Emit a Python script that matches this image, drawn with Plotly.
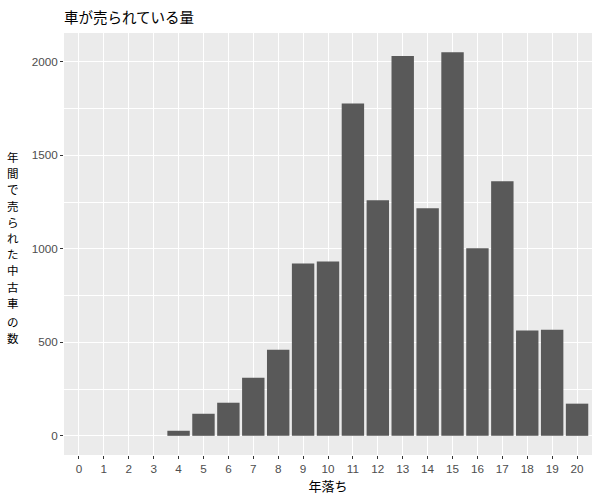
import plotly.graph_objects as go

years = list(range(21))
counts = [0, 0, 0, 0, 27, 118, 177, 311, 461, 922, 933, 1778, 1260, 2032, 1217, 2052, 1003, 1362, 563, 568, 172]
ylabel_chars = ["年", "間", "で", "売", "ら", "れ", "た", "中", "古", "車", "の", "数"]

FONT = "Liberation Sans, Noto Sans CJK JP, sans-serif"
JFONT = "Noto Sans CJK JP, sans-serif"

W, H = 600, 500
ML, MR, MT, MB = 64, 8, 33, 45

fig = go.Figure()
fig.add_trace(go.Bar(x=years, y=counts, width=0.9, marker=dict(color="#595959", line=dict(width=0)),
                     showlegend=False))

fig.update_layout(
    width=W, height=H,
    margin=dict(l=ML, r=MR, t=MT, b=MB, autoexpand=False),
    plot_bgcolor="#EBEBEB", paper_bgcolor="white",
    font=dict(family=FONT, color="#4D4D4D", size=11.7),
    title=dict(text="車が売られている量", x=ML/W, xanchor="left", y=1-18/H, yanchor="middle",
               font=dict(family=JFONT, size=14.5, color="black")),
    bargap=0.1,
)
fig.update_xaxes(
    range=[-0.6, 20.6], tickmode="array", tickvals=years, ticktext=[str(v) for v in years],
    showgrid=True, gridcolor="white", gridwidth=1.1, zeroline=False, automargin=False,
    ticks="outside", ticklen=3, tickcolor="#333333", tickwidth=1,
    tickfont=dict(size=11.7, color="#4D4D4D"),
    title=dict(text="年落ち", font=dict(family=JFONT, size=13, color="black"), standoff=7),
    showline=False,
)
fig.update_yaxes(
    range=[-102.6, 2154.6], tickmode="array", tickvals=[0, 500, 1000, 1500, 2000],
    showgrid=True, gridcolor="white", gridwidth=1.1, zeroline=False, automargin=False,
    minor=dict(tickmode="array", tickvals=[250, 750, 1250, 1750], showgrid=True, gridcolor="white", gridwidth=0.5, ticks=""),
    ticks="outside", ticklen=3, tickcolor="#333333", tickwidth=1,
    tickfont=dict(size=11.7, color="#4D4D4D"),
    showline=False,
)

# stacked vertical y-axis title, one glyph per line (extra gap before の)
plot_h = H - MT - MB
y_px = 157
for i, ch in enumerate(ylabel_chars):
    fig.add_annotation(
        text=ch, xref="paper", yref="paper",
        x=(13 - ML) / (W - ML - MR), y=1 - (y_px - MT) / plot_h,
        xanchor="center", yanchor="middle", showarrow=False,
        font=dict(family=JFONT, size=11.5, color="black"),
    )
    y_px += 19 if ch == "車" else 16.2

fig.write_html("out.html", config={"displayModeBar": False},
               post_script="document.body.style.margin='0';")
